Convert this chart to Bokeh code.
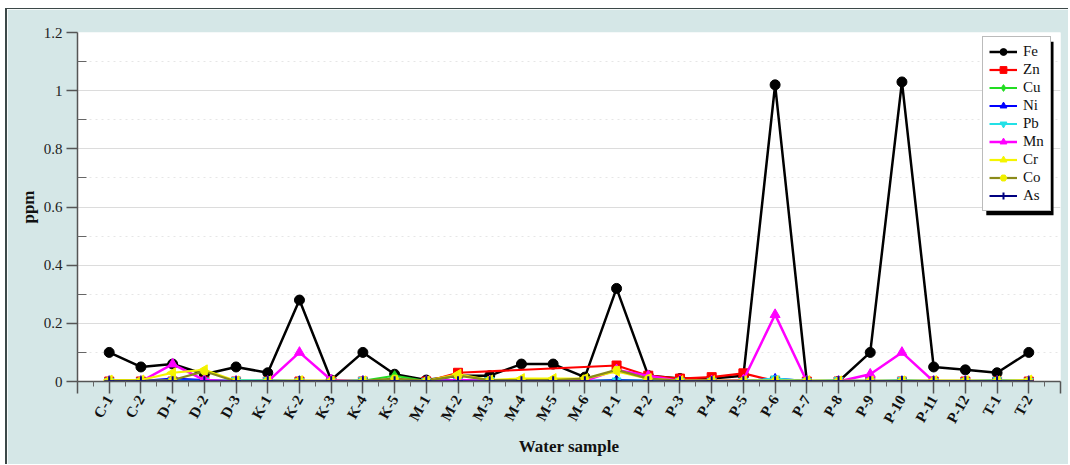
import math
from bokeh.plotting import figure
from bokeh.models import FixedTicker, Legend, LegendItem, BoxAnnotation, Range1d
from bokeh.embed import file_html
from bokeh.resources import INLINE

samples = ["C-1", "C-2", "D-1", "D-2", "D-3", "K-1", "K-2", "K-3", "K-4", "K-5",
           "M-1", "M-2", "M-3", "M-4", "M-5", "M-6", "P-1", "P-2", "P-3", "P-4",
           "P-5", "P-6", "P-7", "P-8", "P-9", "P-10", "P-11", "P-12", "T-1", "T-2"]

fe = [0.10, 0.05, 0.06, 0.025, 0.05, 0.03, 0.28, 0.005, 0.10, 0.025,
      0.005, 0.02, 0.02, 0.06, 0.06, 0.015, 0.32, 0.02, 0.01, 0.01,
      0.02, 1.02, 0.0, 0.0, 0.10, 1.03, 0.05, 0.04, 0.03, 0.10]
zn = [0.0, 0.0, 0.0, 0.0, 0.0, 0.0, 0.0, 0.0, 0.0, 0.0,
      0.0, 0.03, None, None, None, None, 0.055, 0.02, 0.01, 0.015,
      0.028, 0.002, 0.0, 0.0, 0.0, 0.0, 0.0, 0.0, 0.0, 0.0]
cu = [0.002, 0.002, 0.003, 0.003, 0.002, 0.002, 0.002, 0.002, 0.003, 0.02,
      0.002, 0.005, 0.003, 0.002, 0.002, 0.002, 0.004, 0.003, 0.002, 0.002,
      0.002, 0.003, 0.002, 0.002, 0.002, 0.002, 0.002, 0.002, 0.002, 0.002]
ni = [0.002, 0.002, 0.01, 0.005, 0.002, 0.002, 0.002, 0.002, 0.002, 0.002,
      0.002, 0.005, 0.003, 0.002, 0.002, 0.002, 0.005, 0.003, 0.002, 0.002,
      0.002, 0.01, 0.002, 0.002, 0.002, 0.002, 0.002, 0.002, 0.002, 0.002]
pb = [0.002, 0.002, 0.003, 0.003, 0.005, 0.005, 0.002, 0.002, 0.005, 0.005,
      0.002, 0.003, 0.005, 0.002, 0.002, 0.002, 0.003, 0.003, 0.002, 0.002,
      0.002, 0.01, 0.002, 0.005, 0.002, 0.005, 0.002, 0.002, 0.005, 0.002]
mn = [0.0, 0.0, 0.06, 0.005, 0.0, 0.0, 0.10, 0.005, 0.0, 0.0,
      0.0, 0.005, 0.002, 0.002, 0.002, 0.002, 0.04, 0.02, 0.002, 0.002,
      0.005, 0.23, 0.0, 0.0, 0.025, 0.10, 0.0, 0.0, 0.0, 0.0]
cr = [0.005, 0.005, 0.03, 0.04, 0.002, 0.002, 0.003, 0.002, 0.002, 0.003,
      0.002, 0.025, 0.005, 0.01, 0.01, 0.01, 0.035, 0.01, 0.003, 0.003,
      0.003, 0.003, 0.003, 0.002, 0.002, 0.002, 0.003, 0.003, 0.002, 0.005]
co = [0.002, 0.002, 0.005, 0.035, 0.0, 0.002, 0.002, 0.002, 0.002, 0.01,
      0.002, 0.02, 0.005, 0.005, 0.005, 0.01, 0.04, 0.01, 0.002, 0.002,
      0.002, 0.002, 0.002, 0.002, 0.002, 0.002, 0.002, 0.002, 0.002, 0.002]
as_ = [0.001] * 30

y_ticks = [0, 0.2, 0.4, 0.6, 0.8, 1, 1.2]
y_tick_labels = ["0", "0.2", "0.4", "0.6", "0.8", "1", "1.2"]

series = [
    ("Fe", fe, dict(color="#000000", marker="circle", size=10, fill="#000000", lw=2.5, angle=0)),
    ("Zn", zn, dict(color="#ff0000", marker="square", size=9, fill="#ff0000", lw=2.2, angle=0)),
    ("Cu", cu, dict(color="#22dd22", marker="diamond", size=10, fill="#22dd22", lw=2, angle=0)),
    ("Ni", ni, dict(color="#0000ff", marker="triangle", size=9, fill="#0000ff", lw=2, angle=0)),
    ("Pb", pb, dict(color="#22e0e6", marker="inverted_triangle", size=9, fill="#22e0e6", lw=2, angle=0)),
    ("Mn", mn, dict(color="#ff00ff", marker="triangle", size=10, fill="#ff00ff", lw=2.5, angle=0)),
    ("Cr", cr, dict(color="#f5f500", marker="triangle", size=10, fill="#f5f500", lw=2.2, angle=math.pi / 2)),
    ("Co", co, dict(color="#8a8a1a", marker="hex", size=8, fill="#f0f000", lw=2.2, angle=0)),
    ("As", as_, dict(color="#000080", marker="cross", size=10, fill="#000080", lw=2, angle=0)),
]

n = len(samples)
p = figure(width=1063, height=456, output_backend="svg", toolbar_location=None,
           x_range=Range1d(-1, n), y_range=Range1d(0, 1.2),
           min_border_left=70, min_border_right=10, min_border_top=23, min_border_bottom=84,
           background_fill_color="#ffffff", border_fill_color="#d5e7e7",
           outline_line_color=None)
p.margin = (8, 0, 0, 5)
p.styles = {"border-top": "1px solid #3c4848", "border-left": "2px solid #3c4848"}

# legend shadow (data coords of the legend corner area)
shadow = BoxAnnotation(left=27.66, right=29.78, top=1.168, bottom=0.572,
                       fill_color="#000000", fill_alpha=1.0, line_color=None)
p.add_layout(shadow)

items = []
for name, vals, st in series:
    xs = [i for i, v in enumerate(vals) if v is not None]
    ys = [v for v in vals if v is not None]
    r1 = p.line(xs, ys, line_color=st["color"], line_width=st["lw"])
    r2 = p.scatter(xs, ys, marker=st["marker"], size=st["size"], fill_color=st["fill"],
                   line_color=st["color"] if st["marker"] != "hex" else st["fill"],
                   line_width=2 if st["marker"] == "cross" else 1, angle=st["angle"])
    items.append(LegendItem(label=name, renderers=[r1, r2]))

legend = Legend(items=items, location=(905, 170), orientation="vertical",
                label_text_font="Liberation Serif", label_text_font_size="15px",
                label_text_color="#111111",
                glyph_width=28, glyph_height=17, label_height=17, label_standoff=6,
                spacing=1, padding=6, margin=0,
                border_line_color="#777777", border_line_width=1,
                background_fill_color="#ffffff", background_fill_alpha=1.0)
p.add_layout(legend)

# x axis
p.xaxis.ticker = FixedTicker(ticks=list(range(-1, n + 1)),
                             minor_ticks=[i + 0.5 for i in range(-1, n)])
overrides = {i: s for i, s in enumerate(samples)}
overrides[-1] = ""
overrides[n] = ""
p.xaxis.major_label_overrides = overrides
p.xaxis.major_label_orientation = math.pi / 3
p.xaxis.major_label_text_font = "Liberation Serif"
p.xaxis.major_label_text_font_style = "bold"
p.xaxis.major_label_text_font_size = "15px"
p.xaxis.major_label_text_color = "#111111"
p.xaxis.major_label_standoff = 3
p.xaxis.major_tick_out = 12
p.xaxis.major_tick_in = 0
p.xaxis.minor_tick_out = 5
p.xaxis.minor_tick_in = 0
p.xaxis.axis_label = "Water sample"
p.xaxis.axis_label_text_font = "Liberation Serif"
p.xaxis.axis_label_text_font_style = "bold"
p.xaxis.axis_label_text_font_size = "17px"
p.xaxis.axis_label_text_color = "#111111"
p.xaxis.axis_label_standoff = 4

# y axis
p.yaxis.ticker = FixedTicker(ticks=y_ticks,
                             minor_ticks=[(a + b) / 2 for a, b in zip(y_ticks[:-1], y_ticks[1:])])
p.yaxis.major_label_overrides = {t: l for t, l in zip(y_ticks, y_tick_labels)}
p.yaxis.major_label_text_font = "Liberation Serif"
p.yaxis.major_label_text_font_size = "15px"
p.yaxis.major_label_text_color = "#222222"
p.yaxis.major_label_standoff = 4
p.yaxis.major_tick_out = 11
p.yaxis.major_tick_in = 0
p.yaxis.minor_tick_out = 0
p.yaxis.minor_tick_in = 9
p.yaxis.axis_label = "ppm"
p.yaxis.axis_label_text_font = "Liberation Serif"
p.yaxis.axis_label_text_font_style = "bold"
p.yaxis.axis_label_text_font_size = "17px"
p.yaxis.axis_label_text_color = "#111111"
p.yaxis.axis_label_standoff = 3

for ax in (p.xaxis, p.yaxis):
    ax.axis_line_color = "#555555"
    ax.axis_line_width = 1.5
    ax.major_tick_line_color = "#555555"
    ax.minor_tick_line_color = "#666666"
    ax.major_tick_line_width = 1.5

p.xgrid.visible = False
p.ygrid.grid_line_color = "#dcdcdc"
p.ygrid.grid_line_width = 1
p.ygrid.minor_grid_line_color = "#e6e6e6"
p.ygrid.minor_grid_line_dash = "dotted"

open("out.html", "w").write(file_html(p, INLINE))
